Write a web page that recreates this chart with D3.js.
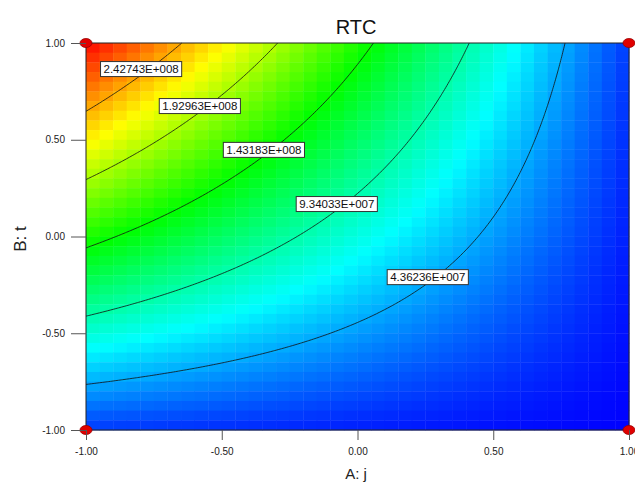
<!DOCTYPE html>
<html>
<head>
<meta charset="utf-8">
<title>RTC</title>
<script src="https://d3js.org/d3.v7.min.js"></script>
<style>
  body { margin: 0; background: #fff; font-family: Arial, "Liberation Sans", sans-serif; }
  .axis text { font-family: Arial, "Liberation Sans", sans-serif; font-size: 10px; fill: #222; }
  .axis line { stroke: #555; }
  .contour { fill: none; stroke: #111; stroke-width: 0.8px; }
  .clabel rect { fill: #fff; stroke: #333; stroke-width: 1px; }
  .clabel text { font-size: 11.5px; fill: #111; }
</style>
</head>
<body>
<svg width="635" height="483"></svg>
<script>
// coded factor ticks
const aTicks = [-1, -0.5, 0, 0.5, 1];
const bTicks = [-1, -0.5, 0, 0.5, 1];

// response surface for RTC in coded units (coefficients estimated from the plot)
const terms = ["Intercept", "A", "B", "AB"];
const coefs = [7.68e7, -7.466e7, 7.466e7, -6.64e7];

// contour levels printed on the plot
const levels = [4.36236e7, 9.34033e7, 1.43183e8, 1.92963e8, 2.42743e8];

// design points (red dots)
const designA = [-1, 1, -1, 1];
const designB = [-1, -1, 1, 1];

const svg = d3.select("svg");
const x = d3.scaleLinear().domain([-1, 1]).range([86, 629]);
const y = d3.scaleLinear().domain([-1, 1]).range([430, 43]);

function rtc(a, b) {
    const t = { "Intercept": 1, "A": a, "B": b, "AB": a * b };
    return d3.sum(terms, (k, i) => coefs[i] * t[k]);
}

// fine grid for contours + colour range
const n = 201;
const values = new Array(n * n);
for (let j = 0; j < n; j++) {
    for (let i = 0; i < n; i++) {
        values[j * n + i] = rtc(-1 + 2 * i / (n - 1), 1 - 2 * j / (n - 1));
    }
}
const [vmin, vmax] = d3.extent(values);
const color = d3.scaleLinear()
    .domain(d3.range(5).map(k => vmin + k * (vmax - vmin) / 4))
    .range(["#0000ff", "#00ffff", "#00ff00", "#ffff00", "#ff0000"]);

// coloured cells
const cells = 40;
const cellData = [];
for (let j = 0; j < cells; j++) {
    for (let i = 0; i < cells; i++) {
        const a0 = -1 + 2 * i / cells, a1 = -1 + 2 * (i + 1) / cells;
        const b1 = 1 - 2 * j / cells, b0 = 1 - 2 * (j + 1) / cells;
        cellData.push({ a0, a1, b0, b1, v: rtc((a0 + a1) / 2, (b0 + b1) / 2) });
    }
}
svg.append("g").selectAll("rect")
    .data(cellData)
    .enter().append("rect")
    .attr("x", d => x(d.a0))
    .attr("y", d => y(d.b1))
    .attr("width", d => x(d.a1) - x(d.a0) + 0.4)
    .attr("height", d => y(d.b0) - y(d.b1) + 0.4)
    .attr("fill", d => color(d.v));

// contour lines (drop the parts running along the grid border)
const gx = d3.scaleLinear().domain([0.5, n - 0.5]).range([x(-1), x(1)]);
const gy = d3.scaleLinear().domain([0.5, n - 0.5]).range([y(1), y(-1)]);
const inside = p => p[0] > 0 && p[0] < n && p[1] > 0 && p[1] < n;

function openLines(ring) {
    const k = ring.findIndex(p => !inside(p));
    if (k < 0) return [ring];
    const r = ring.slice(k).concat(ring.slice(0, k));
    const out = [];
    let cur = [];
    r.forEach(p => {
        if (inside(p)) cur.push([gx(p[0]), gy(p[1])]);
        else { if (cur.length > 1) out.push(cur); cur = []; }
    });
    if (cur.length > 1) out.push(cur);
    // start every line at its left end
    return out.map(pts => pts[0][0] > pts[pts.length - 1][0] ? pts.reverse() : pts);
}

const contours = d3.contours().size([n, n]).thresholds(levels)(values);
const lineGen = d3.line();
const lines = [];
contours.forEach(c => {
    c.coordinates.forEach(poly => poly.forEach(ring => {
        openLines(ring).forEach(pts => lines.push({ value: c.value, pts }));
    }));
});

svg.append("g").selectAll("path")
    .data(lines)
    .enter().append("path")
    .attr("class", "contour")
    .attr("d", d => lineGen(d.pts));

// plot frame
svg.append("rect")
    .attr("x", x(-1)).attr("y", y(1))
    .attr("width", x(1) - x(-1)).attr("height", y(-1) - y(1))
    .attr("fill", "none").attr("stroke", "#222").attr("stroke-width", 1);

// contour labels a little past the middle of each line, sitting just above it
function fmtE(v) {
    const e = Math.floor(Math.log10(v));
    const m = v / Math.pow(10, e);
    return m.toFixed(5) + "E+" + String(e).padStart(3, "0");
}
function alongPoint(pts, frac) {
    const seg = d3.pairs(pts).map(([p, q]) => Math.hypot(q[0] - p[0], q[1] - p[1]));
    let rest = d3.sum(seg) * frac;
    for (let i = 0; i < seg.length; i++) {
        if (rest <= seg[i]) {
            const t = rest / seg[i];
            return [pts[i][0] + t * (pts[i + 1][0] - pts[i][0]), pts[i][1] + t * (pts[i + 1][1] - pts[i][1])];
        }
        rest -= seg[i];
    }
    return pts[pts.length - 1];
}

const labelG = svg.append("g").selectAll("g")
    .data(lines)
    .enter().append("g")
    .attr("class", "clabel")
    .attr("transform", d => { const m = alongPoint(d.pts, 0.56); return `translate(${m[0]},${m[1] - 6})`; });
labelG.append("rect");
labelG.append("text")
    .attr("text-anchor", "middle")
    .attr("dy", "0.36em")
    .text(d => fmtE(d.value));
labelG.each(function () {
    const g = d3.select(this);
    const w = g.select("text").node().getComputedTextLength() + 6;
    g.select("rect").attr("x", -w / 2).attr("y", -7.5).attr("width", w).attr("height", 15);
});

// design points
svg.append("g").selectAll("ellipse")
    .data(designA.map((a, i) => [a, designB[i]]))
    .enter().append("ellipse")
    .attr("cx", d => x(d[0])).attr("cy", d => y(d[1]))
    .attr("rx", 6).attr("ry", 4.5)
    .attr("fill", "#e00000").attr("stroke", "#900").attr("stroke-width", 0.8);

// axes
const fmt = d => d.toFixed(2);
const axL = svg.append("g").attr("class", "axis")
    .attr("transform", `translate(${x(-1)},0)`)
    .call(d3.axisLeft(y).tickValues(bTicks).tickSize(15).tickPadding(6).tickFormat(fmt));
const axB = svg.append("g").attr("class", "axis")
    .attr("transform", `translate(0,${y(-1)})`)
    .call(d3.axisBottom(x).tickValues(aTicks).tickSize(10).tickPadding(8).tickFormat(fmt));
[axL, axB].forEach(g => {
    g.select(".domain").remove();
    g.attr("font-size", null).attr("font-family", null);
});
svg.selectAll(".axis .tick line").lower();

// titles
svg.append("text")
    .attr("x", 356).attr("y", 34)
    .attr("text-anchor", "middle")
    .style("font-size", "20px").style("fill", "#111")
    .text("RTC");
svg.append("text")
    .attr("x", 356).attr("y", 479)
    .attr("text-anchor", "middle")
    .style("font-size", "15px").style("fill", "#222")
    .text("A: j");
svg.append("text")
    .attr("transform", "translate(26,239) rotate(-90)")
    .attr("text-anchor", "middle")
    .style("font-size", "17px").style("fill", "#222")
    .text("B: t");
</script>
</body>
</html>
